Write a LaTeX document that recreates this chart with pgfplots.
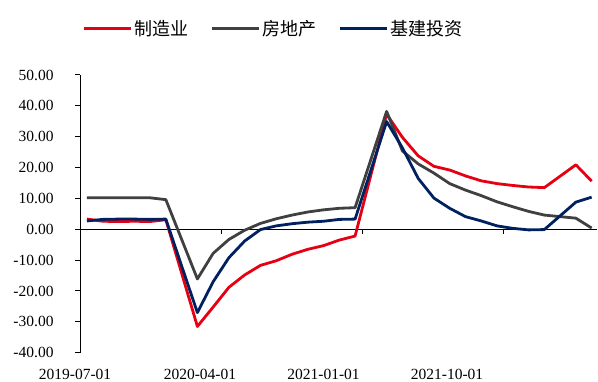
\documentclass[border=0pt]{standalone}
\usepackage{fontspec}
\setmainfont{Liberation Serif}
\newfontfamily\cjk{Noto Sans CJK SC}
\usepackage{pgfplots}
\pgfplotsset{compat=1.18}
\definecolor{cred}{RGB}{230,0,18}
\definecolor{cgray}{RGB}{64,64,64}
\definecolor{cblue}{RGB}{0,32,96}
\begin{document}
\begin{tikzpicture}[x=1pt,y=1pt]
\useasboundingbox (0,0) rectangle (598,382);
\begin{axis}[
  at={(80.06pt,29.3pt)}, anchor=south west,
  scale only axis, width=517.1pt, height=277.7pt,
  xmin=-0.44, xmax=32.35, ymin=-40, ymax=50,
  clip=false,
  axis lines=left,
  axis line style={-},
  x axis line style={draw=none},
  y axis line style={line width=1pt},
  ytick={-40,-30,...,50},
  /pgf/number format/assume math mode=true,
  y tick label style={/pgf/number format/fixed, /pgf/number format/fixed zerofill, /pgf/number format/precision=2, xshift=-18pt},
  tick label style={font=\fontsize{15.5}{18}\selectfont},
  tick align=outside, major tick length=5pt,
  y tick style={line width=1pt, black},
  xtick={-0.44,8.56,17.47,26.38},
  xticklabels={2019-07-01,2020-04-01,2021-01-01,2021-10-01},
  x tick style={draw=none},
  xticklabel style={xshift={-(5+17*\ticknum)*1pt}, yshift=-7.5pt},
  legend columns=3,
  legend style={at={(0.375,1.168)}, anchor=center, draw=none, fill=none,
    font=\fontsize{18}{20}\selectfont, nodes={inner xsep=2pt, inner ysep=1pt},
    /tikz/every even column/.append style={column sep=20pt}},
  legend image code/.code={\draw[#1, line width=3pt] (0pt,0pt) -- (47pt,0pt);},
  every axis plot/.append style={line width=2.8pt, line join=round, mark=none},
]
\draw[line width=1pt] (axis cs:-0.44,0) -- (axis cs:32.35,0);
\draw[line width=1pt] (axis cs:8.56,0) -- (axis cs:8.56,-1.62);
\draw[line width=1pt] (axis cs:17.47,0) -- (axis cs:17.47,-1.62);
\draw[line width=1pt] (axis cs:26.38,0) -- (axis cs:26.38,-1.62);
\addplot[cred] coordinates {
(0,3.3) (1,2.6) (2,2.5) (3,2.6) (4,2.5) (5,3.1)
(7,-31.5) (8,-25.2) (9,-18.8) (10,-14.8) (11,-11.7) (12,-10.2) (13,-8.1) (14,-6.5) (15,-5.3) (16,-3.5) (17,-2.2)
(19,37.3) (20,29.8) (21,23.8) (22,20.4) (23,19.2) (24,17.3) (25,15.7) (26,14.8) (27,14.2) (28,13.7) (29,13.5)
(31,20.9) (32,15.6)};
\addlegendentry{\cjk 制造业}
\addplot[cgray] coordinates {
(0,10.2) (1,10.2) (2,10.2) (3,10.2) (4,10.2) (5,9.6)
(7,-16.1) (8,-7.8) (9,-3.3) (10,-0.3) (11,1.9) (12,3.4) (13,4.6) (14,5.6) (15,6.3) (16,6.8) (17,7.0)
(19,38.2) (20,25.4) (21,21.2) (22,18.2) (23,14.8) (24,12.7) (25,10.9) (26,8.9) (27,7.3) (28,5.8) (29,4.6)
(31,3.6) (32,0.4)};
\addlegendentry{\cjk 房地产}
\addplot[cblue] coordinates {
(0,2.7) (1,3.2) (2,3.3) (3,3.3) (4,3.2) (5,3.3)
(7,-27.0) (8,-17.0) (9,-9.2) (10,-3.8) (11,-0.1) (12,1.1) (13,1.8) (14,2.3) (15,2.6) (16,3.2) (17,3.3)
(19,34.9) (20,26.4) (21,16.5) (22,10.1) (23,6.8) (24,4.1) (25,2.7) (26,1.1) (27,0.3) (28,-0.2) (29,-0.1)
(31,8.8) (32,10.4)};
\addlegendentry{\cjk 基建投资}
\end{axis}
\end{tikzpicture}
\end{document}
